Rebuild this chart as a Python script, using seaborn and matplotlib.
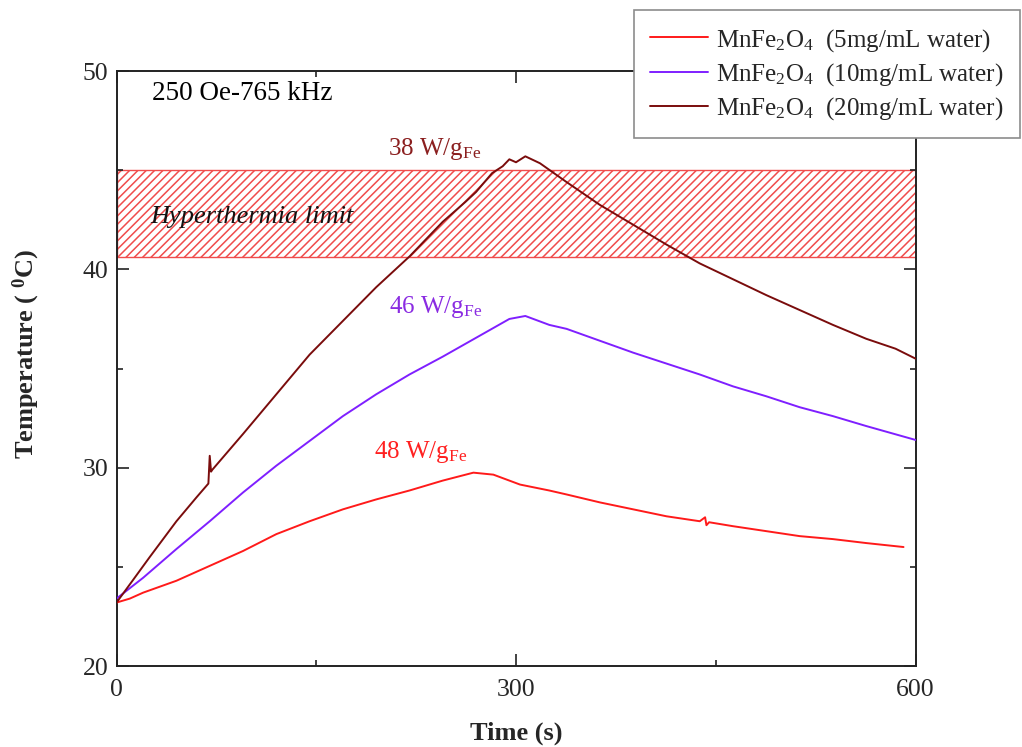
import numpy as np
import pandas as pd
import matplotlib
matplotlib.use('Agg')
import matplotlib.pyplot as plt
import seaborn as sns
from matplotlib.ticker import MultipleLocator

# ---------------- data ----------------
t_20 = [0, 12, 25, 45, 60, 69, 70, 71, 72, 95, 120, 145, 170, 195, 220, 245, 262, 270,
        282, 290, 295, 300, 307, 318, 338, 363, 388, 413, 438, 463, 488, 513, 538, 563, 585, 600]
T_20 = [23.2, 24.3, 25.5, 27.3, 28.5, 29.2, 30.6, 29.8, 29.9, 31.7, 33.7, 35.7, 37.4, 39.1,
        40.65, 42.4, 43.4, 43.9, 44.85, 45.2, 45.55, 45.4, 45.7, 45.35, 44.4, 43.25, 42.25,
        41.25, 40.3, 39.5, 38.7, 37.95, 37.2, 36.5, 36.0, 35.5]

t_10 = [0, 20, 45, 70, 95, 120, 145, 170, 195, 220, 245, 270, 295, 307, 325, 338, 363,
        388, 413, 438, 463, 488, 513, 538, 563, 600]
T_10 = [23.4, 24.45, 25.9, 27.3, 28.75, 30.1, 31.35, 32.6, 33.7, 34.7, 35.6, 36.55, 37.5,
        37.65, 37.2, 37.0, 36.4, 35.8, 35.25, 34.7, 34.1, 33.6, 33.05, 32.6, 32.1, 31.4]

t_5 = [0, 10, 20, 45, 70, 95, 120, 145, 170, 195, 220, 245, 268, 283, 303, 325, 338, 363,
       388, 413, 438, 442, 443, 445, 463, 488, 513, 538, 563, 591]
T_5 = [23.2, 23.4, 23.7, 24.3, 25.05, 25.8, 26.65, 27.3, 27.9, 28.4, 28.85, 29.35, 29.75,
       29.65, 29.15, 28.85, 28.65, 28.25, 27.9, 27.55, 27.3, 27.5, 27.1, 27.25, 27.05,
       26.8, 26.55, 26.4, 26.2, 26.0]

series_labels = [r'MnFe$_2$O$_4$  (5mg/mL water)',
                 r'MnFe$_2$O$_4$  (10mg/mL water)',
                 r'MnFe$_2$O$_4$  (20mg/mL water)']
series_colors = ['#ff1a1a', '#7f1fff', '#7a0c0c']
sar_labels = [r'48 W/g$_{\mathrm{Fe}}$', r'46 W/g$_{\mathrm{Fe}}$', r'38 W/g$_{\mathrm{Fe}}$']
sar_colors = ['#ff2020', '#8a2be2', '#8b1f1f']

hyper_low, hyper_high = 40.6, 45.0
x_ticks = [0, 300, 600]
y_ticks = [20, 30, 40, 50]

# ---------------- style ----------------
sns.set_theme(style='ticks')
plt.rcParams['font.family'] = ['Liberation Serif', 'DejaVu Serif']
plt.rcParams['mathtext.fontset'] = 'custom'
plt.rcParams['mathtext.rm'] = 'Liberation Serif'
plt.rcParams['mathtext.it'] = 'Liberation Serif:italic'
plt.rcParams['mathtext.bf'] = 'Liberation Serif:bold'
plt.rcParams['hatch.linewidth'] = 1.1

fig = plt.figure(figsize=(10.22, 7.47), dpi=100)
ax = fig.add_axes([0.114, 0.1084, 0.7818, 0.7965])

# hatched hyperthermia band
ax.axhspan(hyper_low, hyper_high, facecolor='white', edgecolor='#f04c4c',
           hatch='////', linewidth=1.0, zorder=0)

datasets = [(t_5, T_5), (t_10, T_10), (t_20, T_20)]
for (tt, TT), lab, col in zip(datasets, series_labels, series_colors):
    df = pd.DataFrame({'Time': tt, 'Temp': TT})
    sns.lineplot(data=df, x='Time', y='Temp', color=col, linewidth=1.4,
                 label=lab, ax=ax, zorder=3)

ax.set_xlim(0, 600)
ax.set_ylim(20, 50)
ax.set_xticks(x_ticks)
ax.set_yticks(y_ticks)
ax.xaxis.set_minor_locator(MultipleLocator(150))
ax.yaxis.set_minor_locator(MultipleLocator(5))
ax.tick_params(which='both', direction='in', top=True, right=True, width=1.2,
               color='#222222')
ax.tick_params(which='major', length=8.6, labelsize=18.5)
ax.tick_params(axis='x', which='major', pad=9)
ax.tick_params(axis='y', which='major', pad=6)
ax.tick_params(which='minor', length=4.5)
for s in ax.spines.values():
    s.set_linewidth(1.4)
    s.set_color('#222222')

ax.set_xlabel('Time (s)', fontsize=19, fontweight='bold')
ax.set_ylabel(r'Temperature ( $^{\mathbf{0}}$C)', fontsize=19, fontweight='bold')
ax.xaxis.set_label_coords(0.5, -0.094)
ax.yaxis.set_label_coords(-0.093, 0.524)

# annotations
ax.text(26.7, 48.54, '250 Oe-765 kHz', fontsize=19.5, color='black', va='baseline')
ax.text(25.2, 42.33, 'Hyperthermia limit', fontsize=19, style='italic',
        color='#111111', va='baseline', zorder=2)
sar_pos = [(193.4, 30.5), (204.6, 37.8), (204.0, 45.79)]
for (px, py), lab, col in zip(sar_pos, sar_labels, sar_colors):
    ax.text(px, py, lab, fontsize=18, color=col, va='baseline')

leg = ax.legend(loc='upper right', bbox_to_anchor=(0.998, 0.986),
                bbox_transform=fig.transFigure, borderaxespad=0, frameon=True,
                fancybox=False, edgecolor='#8c8c8c', framealpha=1, fontsize=18,
                handlelength=2.3, handletextpad=0.35, labelspacing=0.3,
                borderpad=0.65)
leg.get_frame().set_linewidth(1.2)
leg.set_zorder(10)

fig.savefig('out.png', dpi=100)
